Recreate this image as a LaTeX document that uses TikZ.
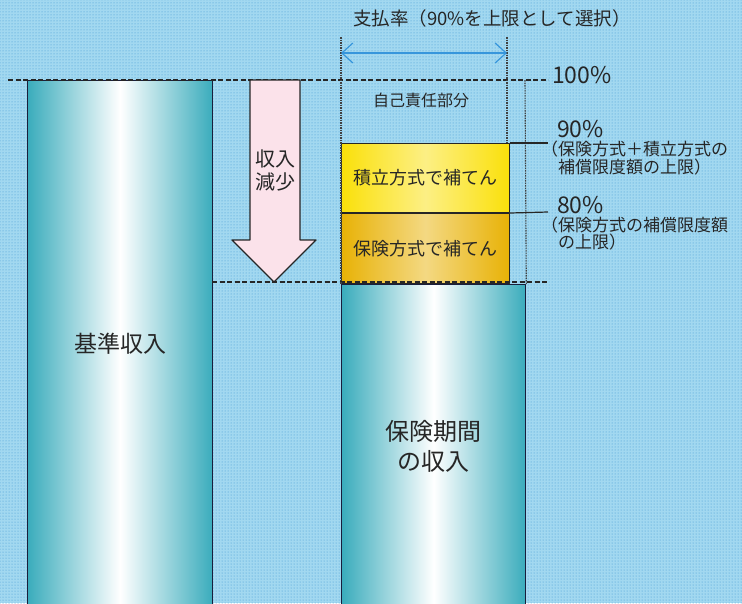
\documentclass[tikz,border=0pt]{standalone}
\usepackage{fontspec}
\newfontfamily\jp{Noto Sans CJK JP}
\usetikzlibrary{positioning,patterns,arrows.meta}
\definecolor{bgblue}{RGB}{162,216,240}
\definecolor{dotblue}{RGB}{60,150,210}
\definecolor{barteal}{RGB}{58,172,188}
\definecolor{barline}{RGB}{25,30,60}
\definecolor{tsumiyellow}{RGB}{250,224,10}
\definecolor{hokenyellow}{RGB}{232,178,6}
\definecolor{downpink}{RGB}{251,226,234}
\definecolor{rateblue}{RGB}{55,150,220}
\begin{document}
\begin{tikzpicture}[x=1pt,y=-1pt,line join=round,
  txt/.style 2 args={font=\jp\fontsize{#1}{#2}\selectfont,text=black!85,align=center,inner sep=0pt},
  guide/.style={dash pattern=on 5pt off 2.5pt,line width=1.3pt,black!85},
  fine/.style={dash pattern=on 1.5pt off 1pt,line width=1.1pt,black!75},
  bar/.style={left color=barteal,right color=barteal,middle color=white,draw=barline,line width=1.3pt,inner sep=0pt},
  fillbox/.style={left color=#1,right color=#1,middle color=#1!50!white,draw=black!85,line width=1pt,inner sep=0pt}]
\def\W{742}\def\H{603}
\def\yfull{80}\def\ysum{143}\def\yhoken{212}\def\yincome{282}
\useasboundingbox (0,0) rectangle (\W,\H);
\fill[bgblue] (0,0) rectangle (\W,\H);
\fill[pattern=dots,pattern color=dotblue] (0,0) rectangle (\W,\H);
% bars and boxes
\node[bar,anchor=north west,minimum width=185pt,minimum height=526pt,txt={23}{28}] (kijun) at (27,\yfull) {基準収入};
\node[fillbox=tsumiyellow,anchor=north west,minimum width=168pt,minimum height=69pt,txt={18}{20}] (tsumitate) at (341,\ysum) {積立方式で補てん};
\node[fillbox=hokenyellow,below=0pt of tsumitate,minimum width=168pt,minimum height=70pt,txt={18}{20}] (hoken) {保険方式で補てん};
\node[bar,anchor=north west,minimum width=184pt,minimum height=324pt,txt={24}{30}] (kikan) at (hoken.south west) {保険期間\\の収入};
% guide lines
\coordinate (L100) at (8,\yfull); \coordinate (R100) at (548,\yfull);
\coordinate (Lin) at (212,\yincome); \coordinate (Rin) at (548,\yincome);
\coordinate (rateL) at (341,37); \coordinate (rateR) at (507,37);
\coordinate (rateRb) at (507,\ysum); \coordinate (capT) at (525,\yfull);
\coordinate (r90) at (548,\ysum); \coordinate (r80) at (548,\yhoken);
\coordinate (arrL) at (341,53); \coordinate (arrR) at (507,53);
\draw[guide] (L100) -- (R100);
\draw[guide] (Lin) -- (Rin);
\draw[fine] (rateL) -- (kikan.north west);
\draw[fine] (rateR) -- (rateRb);
\draw[fine] (capT) -- (kikan.north east);
\draw[line width=1.2pt,black!85] (tsumitate.north east) -- (r90);
\draw[line width=1.2pt,black!85] (hoken.north east) -- (r80);
\draw[rateblue,line width=1.2pt,{Straight Barb[length=11pt,width=20pt]}-{Straight Barb[length=11pt,width=20pt]}] (arrL) -- (arrR);
% income decrease arrow
\draw[fill=downpink,draw=black!85,line width=1.3pt] (250,\yfull) -- (300,\yfull) -- (300,240) -- (316,240) -- (274,\yincome) -- (232,240) -- (250,240) -- cycle;
\node[txt={20}{23}] (down) at (275,170) {収入\\減少};
% labels
\node[txt={18.5}{20}] (rate) at (492,18) {支払率（90\%を上限として選択）};
\node[txt={16}{18}] (self) at (421,100) {自己責任部分};
\node[txt={23}{24},anchor=base west] (p100) at (552,83) {100\%};
\node[txt={23}{24},anchor=base west] (p90) at (557,137) {90\%};
\node[txt={17}{18},align=left,anchor=north west] (note90) at (541,141) {（保険方式＋積立方式の\\\hspace{1em}補償限度額の上限）};
\node[txt={23}{24},anchor=base west] (p80) at (557,213) {80\%};
\node[txt={17}{17},align=left,anchor=north west] (note80) at (541,217) {（保険方式の補償限度額\\\hspace{1em}の上限）};
\end{tikzpicture}
\end{document}
